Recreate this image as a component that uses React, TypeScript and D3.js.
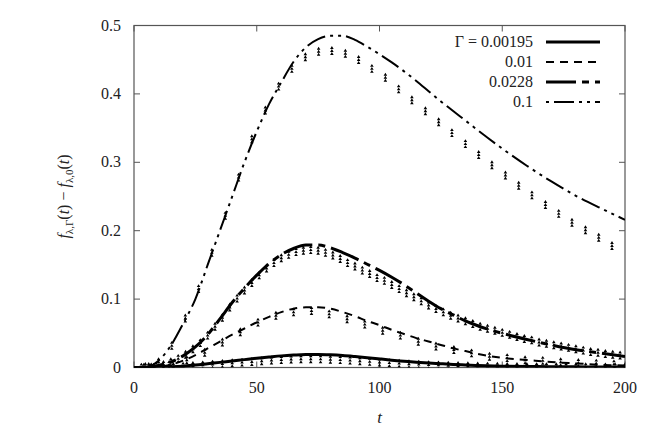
import React from "react";
import * as d3 from "d3";

// ---- data ----
const lineT = [0,5,10,15,20,25,30,35,40,45,50,55,60,65,70,75,80,85,90,95,100,105,110,115,120,125,130,135,140,150,160,170,180,190,200];

const lineG00195 = [0,0.0001,0.0003,0.001,0.002,0.0035,0.0055,0.0075,0.0095,0.0115,0.0135,0.0153,0.017,0.0182,0.019,0.019,0.0185,0.0175,0.016,0.0143,0.0125,0.0107,0.009,0.0077,0.0065,0.0055,0.0045,0.0037,0.003,0.002,0.0015,0.0012,0.001,0.0008,0.0007];
const lineG001 = [0,0.0002,0.001,0.004,0.01,0.018,0.028,0.038,0.048,0.057,0.066,0.074,0.081,0.086,0.088,0.088,0.086,0.081,0.075,0.068,0.062,0.055,0.049,0.043,0.038,0.033,0.028,0.024,0.02,0.014,0.011,0.008,0.006,0.004,0.003];
const lineG00228 = [0,0.0005,0.003,0.008,0.017,0.03,0.048,0.071,0.095,0.116,0.135,0.152,0.165,0.174,0.179,0.179,0.175,0.168,0.16,0.151,0.142,0.132,0.121,0.109,0.097,0.086,0.077,0.068,0.061,0.05,0.041,0.033,0.026,0.021,0.016];
const lineG01 = [0,0.001,0.01,0.032,0.064,0.1,0.15,0.2,0.25,0.3,0.345,0.385,0.417,0.447,0.468,0.48,0.485,0.485,0.479,0.469,0.458,0.446,0.433,0.419,0.404,0.389,0.375,0.361,0.347,0.32,0.295,0.272,0.251,0.233,0.216];

// simulation markers
const simT00195 = [4,8,12,16,20,24,28,32,36,40,44,48,52,56,60,64,68,72,76,80,84,88,92,96,100,104,108,112,116,120,124,128,132,136,140,144,148,152,156,160,164,168,172,176,180,184,188,192,196,200];
const simV00195 = [0,0.0001,0.0004,0.001,0.0017,0.0025,0.0035,0.0045,0.0055,0.0065,0.0075,0.0085,0.0095,0.0105,0.0113,0.012,0.0124,0.0125,0.0123,0.0118,0.0112,0.0104,0.0095,0.0086,0.0077,0.0068,0.006,0.0052,0.0045,0.0039,0.0034,0.0029,0.0025,0.0022,0.0019,0.0016,0.0014,0.0012,0.0011,0.001,0.0009,0.0009,0.0008,0.0008,0.0007,0.0007,0.0006,0.0006,0.0005,0.0005];

const simT001 = [7.0,14.3,21.5,28.8,36.0,43.3,50.5,57.8,65.0,72.3,79.5,86.8,94.0,101.3,108.5,115.8,123.0,130.3,137.5,144.8,152.0,159.3,166.5,173.8,181.0,188.3,195.5];
const simV001 = [0.0005,0.004,0.011,0.022,0.037,0.052,0.066,0.076,0.081,0.083,0.078,0.071,0.063,0.054,0.047,0.038,0.031,0.026,0.021,0.016,0.014,0.011,0.01,0.008,0.007,0.006,0.005];

const simT00228 = [3,6,9,12,15,18,21,24,27,30,33,36,39,42,45,48,51,54,57,60,63,66,69,72,75,78,81,84,87,90,93,96,99,102,105,108,111,114,117,120,123,126,129,132,135,138,141,144,147,150,153,156,159,162,165,168,171,174,177,180,183,186,189,192,195,198];
const simV00228 = [0.0002,0.001,0.002,0.004,0.008,0.013,0.019,0.027,0.036,0.047,0.06,0.073,0.088,0.101,0.113,0.124,0.135,0.145,0.153,0.16,0.165,0.169,0.171,0.172,0.171,0.168,0.164,0.159,0.153,0.148,0.142,0.137,0.131,0.127,0.121,0.115,0.109,0.103,0.097,0.091,0.086,0.081,0.076,0.072,0.068,0.064,0.06,0.057,0.054,0.051,0.048,0.045,0.042,0.04,0.037,0.035,0.033,0.031,0.029,0.027,0.025,0.023,0.022,0.02,0.019,0.018];

const simT01 = [4.6,10.0,15.4,20.9,26.3,31.7,37.2,42.6,48.0,53.5,58.9,64.3,69.8,75.2,80.6,86.1,91.5,96.9,102.4,107.8,113.2,118.7,124.1,129.5,135.0,140.4,145.8,151.3,156.7,162.1,167.6,173.0,178.4,183.9,189.3,194.7];
const simV01 = [0.001,0.008,0.032,0.072,0.115,0.168,0.222,0.278,0.334,0.376,0.411,0.437,0.454,0.462,0.463,0.459,0.45,0.437,0.424,0.407,0.391,0.375,0.359,0.343,0.327,0.311,0.296,0.281,0.266,0.252,0.238,0.225,0.212,0.201,0.19,0.178];

const legendLabels = ["\u0393 = 0.00195", "0.01", "0.0228", "0.1"];
const xTicks = [0, 50, 100, 150, 200];
const yTicks = [0, 0.1, 0.2, 0.3, 0.4, 0.5];

// ---- layout ----
const W = 664, H = 435;
const L = 134, R = 625, T = 25.5, B = 367.5;
const FONT = "Liberation Serif";
const TXT = "#222";
const FRAME = "#555";

const styles = [
  { width: 3, dash: "none", offset: 0 },
  { width: 2, dash: "8,6", offset: 0 },
  { width: 3, dash: "30,6,7,6", offset: 0 },
  { width: 2, dash: "20,5,3,5,3,5", offset: 33 },
];

export default function App() {
  const x = d3.scaleLinear().domain([0, 200]).range([L, R]);
  const y = d3.scaleLinear().domain([0, 0.5]).range([B, T]);
  const line = d3
    .line<[number, number]>()
    .x((d) => x(d[0]))
    .y((d) => y(d[1]))
    .curve(d3.curveMonotoneX);

  const lines = [lineG00195, lineG001, lineG00228, lineG01];
  const sims: [number[], number[]][] = [
    [simT00195, simV00195],
    [simT001, simV001],
    [simT00228, simV00228],
    [simT01, simV01],
  ];

  const glyph = (cx: number, cy: number) => {
    let p = "";
    for (const dy of [-3, 0, 3]) {
      const c = cy + dy;
      p += `M${cx - 1.8},${c + 1.2}L${cx + 1.8},${c + 1.2}L${cx},${c - 1.7}Z`;
    }
    return p;
  };

  return (
    <svg
      width={W}
      height={H}
      viewBox={`0 0 ${W} ${H}`}
      style={{ position: "absolute", left: 0, top: 0, background: "#fff" }}
    >
      <defs>
        <clipPath id="plotclip">
          <rect x={L} y={T - 2} width={R - L} height={B - T + 2} />
        </clipPath>
      </defs>
      <rect x={0} y={0} width={W} height={H} fill="#fff" />

      {/* frame */}
      <rect x={L} y={T} width={R - L} height={B - T} fill="none" stroke={FRAME} strokeWidth={1.2} />
      {xTicks.map((t) => (
        <g key={"xt" + t}>
          <line x1={x(t)} x2={x(t)} y1={B} y2={B - 6} stroke={FRAME} strokeWidth={1} />
          <line x1={x(t)} x2={x(t)} y1={T} y2={T + 6} stroke={FRAME} strokeWidth={1} />
          <text x={x(t)} y={B + 25} textAnchor="middle" fontFamily={FONT} fontSize={16} fill={TXT}>
            {t}
          </text>
        </g>
      ))}
      {yTicks.map((v) => (
        <g key={"yt" + v}>
          <line x1={L} x2={L + 6} y1={y(v)} y2={y(v)} stroke={FRAME} strokeWidth={1} />
          <line x1={R} x2={R - 6} y1={y(v)} y2={y(v)} stroke={FRAME} strokeWidth={1} />
          <text x={121} y={y(v) + 5} textAnchor="end" fontFamily={FONT} fontSize={16} fill={TXT}>
            {v === 0 ? "0" : v.toFixed(1)}
          </text>
        </g>
      ))}

      {/* axis labels */}
      <text x={(L + R) / 2} y={423} textAnchor="middle" fontFamily={FONT} fontSize={17} fontStyle="italic" fill={TXT}>
        t
      </text>
      <text
        transform={`translate(69,${(T + B) / 2}) rotate(-90)`}
        textAnchor="middle"
        fontFamily={FONT}
        fontSize={16}
        fill={TXT}
      >
        <tspan fontStyle="italic">f</tspan>
        <tspan fontSize={11} dy={4}>λ,Γ</tspan>
        <tspan dy={-4}>(</tspan>
        <tspan fontStyle="italic">t</tspan>
        <tspan>) − </tspan>
        <tspan fontStyle="italic">f</tspan>
        <tspan fontSize={11} dy={4}>λ,0</tspan>
        <tspan dy={-4}>(</tspan>
        <tspan fontStyle="italic">t</tspan>
        <tspan>)</tspan>
      </text>

      {/* curves + markers */}
      <g clipPath="url(#plotclip)">
        {sims.map(([ts, vs], i) => (
          <path
            key={"s" + i}
            d={ts.map((t, k) => glyph(x(t), y(vs[k]))).join("")}
            fill="#000"
          />
        ))}
        {lines.map((vals, i) => (
          <path
            key={"l" + i}
            d={line(lineT.map((t, k) => [t, vals[k]] as [number, number])) || ""}
            fill="none"
            stroke="#000"
            strokeWidth={styles[i].width}
            strokeDasharray={styles[i].dash}
            strokeDashoffset={styles[i].offset}
          />
        ))}
      </g>

      {/* legend */}
      {legendLabels.map((lab, i) => {
        const ly = 42 + i * 20;
        return (
          <g key={"lg" + i}>
            <text x={533} y={ly + 5} textAnchor="end" fontFamily={FONT} fontSize={16} fill={TXT}>
              {lab}
            </text>
            <line
              x1={546}
              x2={600}
              y1={ly}
              y2={ly}
              stroke="#000"
              strokeWidth={styles[i].width}
              strokeDasharray={styles[i].dash}
              strokeDashoffset={styles[i].offset}
            />
          </g>
        );
      })}
    </svg>
  );
}
